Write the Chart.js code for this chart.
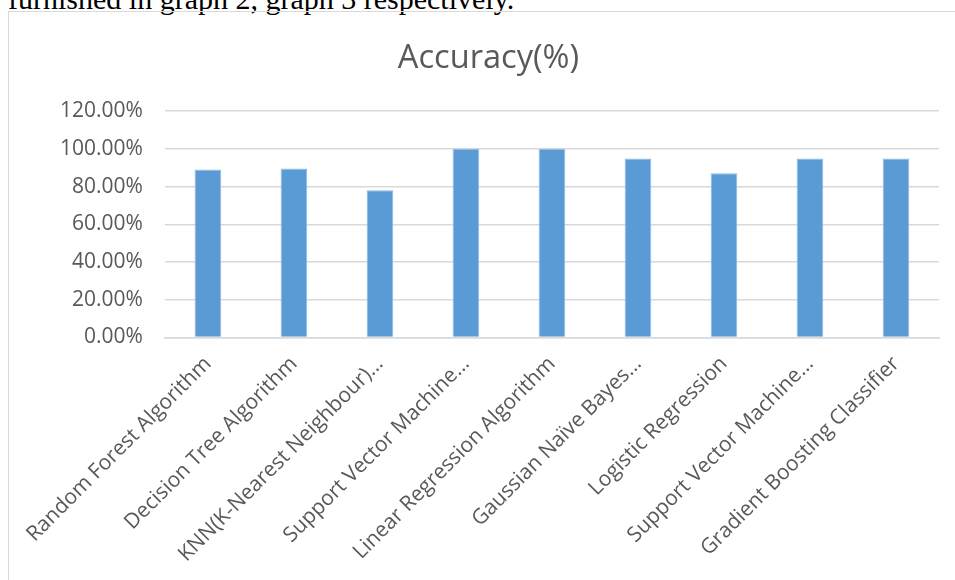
<!DOCTYPE html>
<html>
<head>
<meta charset="utf-8">
<script src="https://cdn.jsdelivr.net/npm/chart.js@4/dist/chart.umd.min.js"></script>
<style>
  html, body { margin: 0; padding: 0; background: #fff; width: 955px; height: 580px; overflow: hidden; position: relative; }
  #topText { position: absolute; left: 8px; top: -16px; font-family: "Liberation Serif", "DejaVu Serif", serif; font-size: 30px; line-height: 30px; color: #000; white-space: nowrap; }
  #frame { position: absolute; left: 8px; top: 11px; width: 1000px; height: 600px; border: 1.5px solid #d9d9d9; box-sizing: border-box; }
  #wrap { position: absolute; left: 0; top: 0; width: 955px; height: 580px; }
</style>
</head>
<body>
<div id="topText">furnished in graph 2, graph 3 respectively.</div>
<div id="frame"></div>
<div id="wrap"><canvas id="c" width="955" height="580"></canvas></div>
<script>
const categories = [
  "Random Forest Algorithm",
  "Decision Tree Algorithm",
  "KNN(K-Nearest Neighbour)…",
  "Support Vector Machine…",
  "Linear Regression Algorithm",
  "Gaussian Naïve Bayes…",
  "Logistic Regression",
  "Support Vector Machine…",
  "Gradient Boosting Classifier"
];
const accuracy = [0.89, 0.895, 0.78, 1.0, 1.0, 0.948, 0.87, 0.948, 0.948];
const yTicks = [0, 0.2, 0.4, 0.6, 0.8, 1.0, 1.2];
const chartTitle = "Accuracy(%)";

const fontFamily = '"Open Sans", "Noto Sans", sans-serif';
new Chart(document.getElementById('c'), {
  type: 'bar',
  data: {
    labels: categories,
    datasets: [{
      label: chartTitle,
      data: accuracy,
      backgroundColor: '#5b9bd5',
      borderColor: '#8dbbe3',
      borderWidth: 1,
      categoryPercentage: 1.0,
      barPercentage: 0.31
    }]
  },
  options: {
    responsive: false,
    animation: false,
    devicePixelRatio: 1,
    layout: { padding: { left: 38, right: 16, top: 39.6, bottom: -1 } },
    plugins: {
      legend: { display: false },
      tooltip: { enabled: false },
      title: {
        display: true,
        text: chartTitle,
        color: '#595959',
        font: { family: fontFamily, size: 32.6, weight: 'normal' },
        padding: { top: 0, bottom: 32.3 }
      }
    },
    scales: {
      x: {
        grid: { display: false, drawTicks: false },
        border: { display: true, color: '#d9d9d9', width: 1.5 },
        ticks: {
          color: '#595959',
          font: { family: fontFamily, size: 21 },
          minRotation: 45,
          maxRotation: 45,
          autoSkip: false,
          padding: 14
        }
      },
      y: {
        min: 0,
        max: 1.2,
        afterBuildTicks: (axis) => { axis.ticks = yTicks.map(v => ({ value: v })); },
        grid: { color: '#d9d9d9', lineWidth: 1.5, drawTicks: false },
        border: { display: false },
        ticks: {
          color: '#595959',
          font: { family: fontFamily, size: 21 },
          padding: 22,
          callback: (v) => (v * 100).toFixed(2) + '%'
        }
      }
    }
  }
});
</script>
</body>
</html>
